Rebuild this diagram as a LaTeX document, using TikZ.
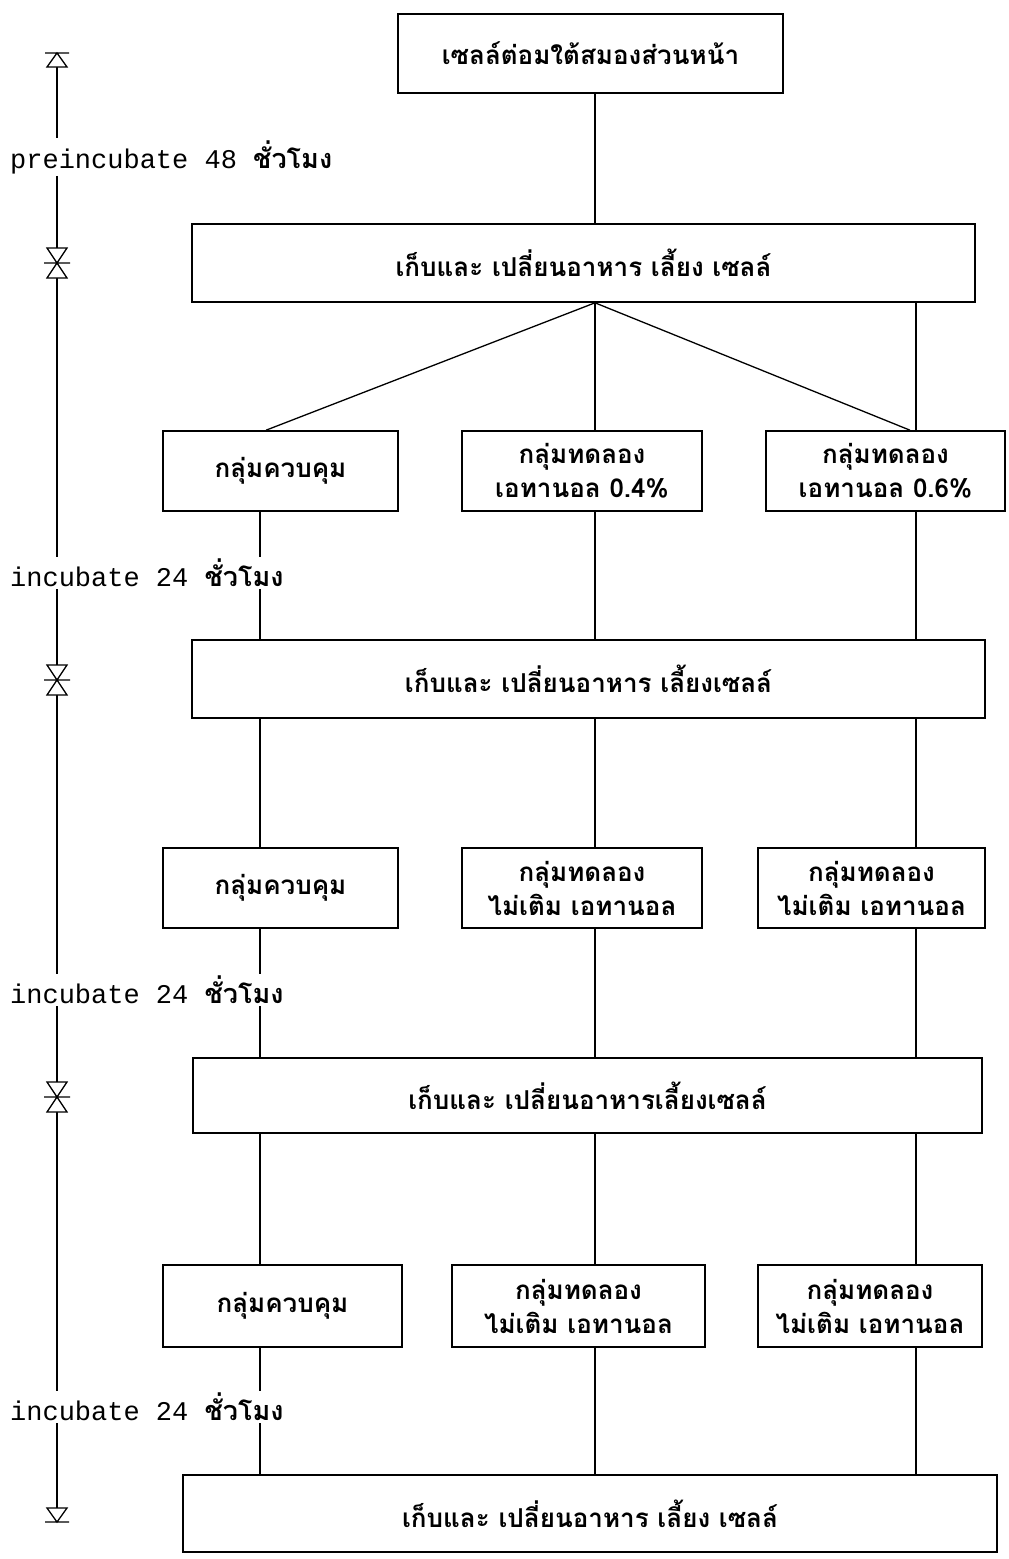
\documentclass[tikz,border=0pt]{standalone}
\usepackage{fontspec}
\newfontfamily\thaifont[Script=Thai]{Loma}
\setmonofont{Liberation Mono}

\tikzset{
  stepbox/.style={draw, line width=1.6pt, inner sep=0pt, align=center,
    font=\thaifont\bfseries\fontsize{26}{34}\selectfont},
  timelabel/.style={fill=white, inner sep=2pt, anchor=west,
    font=\ttfamily\fontsize{27}{30}\selectfont},
  link/.style={line width=1.3pt},
  marker/.style={line width=1.3pt, fill=white},
}
\newcommand{\thr}{\thaifont\bfseries}

\begin{document}
\begin{tikzpicture}[x=1pt, y=-1pt]
      \useasboundingbox[fill=white] (0,0) rectangle (1009,1559);
      % columns of the three groups
      \coordinate (left) at (260,0);
      \coordinate (mid) at (595,0);
      \coordinate (right) at (916,0);

      % boxes
      \node[stepbox, minimum width=385pt, minimum height=79pt] (cells) at (590.5,53.5) {เซลล์ต่อมใต้สมองส่วนหน้า};
      \node[stepbox, minimum width=783pt, minimum height=78pt] (change1) at (583.5,263) {เก็บและ เปลี่ยนอาหาร เลี้ยง เซลล์};
      \node[stepbox, minimum width=235pt, minimum height=80pt] (ctrl1) at (280.5,471) {กลุ่มควบคุม};
      \node[stepbox, minimum width=240pt, minimum height=80pt] (low1) at (582,471) {กลุ่มทดลอง\\เอทานอล 0.4\%};
      \node[stepbox, minimum width=239pt, minimum height=80pt] (high1) at (885.5,471) {กลุ่มทดลอง\\เอทานอล 0.6\%};
      \node[stepbox, minimum width=793pt, minimum height=78pt] (change2) at (588.5,679) {เก็บและ เปลี่ยนอาหาร เลี้ยงเซลล์};
      \node[stepbox, minimum width=235pt, minimum height=80pt] (ctrl2) at (280.5,888) {กลุ่มควบคุม};
      \node[stepbox, minimum width=240pt, minimum height=80pt] (low2) at (582,888) {กลุ่มทดลอง\\ไม่เติม เอทานอล};
      \node[stepbox, minimum width=227pt, minimum height=80pt] (high2) at (871.5,888) {กลุ่มทดลอง\\ไม่เติม เอทานอล};
      \node[stepbox, minimum width=789pt, minimum height=75pt] (change3) at (587.5,1095.5) {เก็บและ เปลี่ยนอาหารเลี้ยงเซลล์};
      \node[stepbox, minimum width=239pt, minimum height=82pt] (ctrl3) at (282.5,1306) {กลุ่มควบคุม};
      \node[stepbox, minimum width=253pt, minimum height=82pt] (low3) at (578.5,1306) {กลุ่มทดลอง\\ไม่เติม เอทานอล};
      \node[stepbox, minimum width=224pt, minimum height=82pt] (high3) at (870,1306) {กลุ่มทดลอง\\ไม่เติม เอทานอล};
      \node[stepbox, minimum width=814pt, minimum height=77pt] (change4) at (590,1513.5) {เก็บและ เปลี่ยนอาหาร เลี้ยง เซลล์};

      % connectors
      \draw[link] (cells.south -| mid) -- (change1.north -| mid);
      \draw[link] (change1.south -| mid) -- (ctrl1.north -| 266,0);
      \draw[link] (change1.south -| mid) -- (low1.north -| mid);
      \draw[link] (change1.south -| mid) -- (high1.north -| 910,0);
      \draw[link] (change1.south -| right) -- (high1.north -| right);
      \draw[link] (ctrl1.south -| left) -- (change2.north -| left);
      \draw[link] (low1.south -| mid) -- (change2.north -| mid);
      \draw[link] (high1.south -| right) -- (change2.north -| right);
      \draw[link] (change2.south -| left) -- (ctrl2.north -| left);
      \draw[link] (change2.south -| mid) -- (low2.north -| mid);
      \draw[link] (change2.south -| right) -- (high2.north -| right);
      \draw[link] (ctrl2.south -| left) -- (change3.north -| left);
      \draw[link] (low2.south -| mid) -- (change3.north -| mid);
      \draw[link] (high2.south -| right) -- (change3.north -| right);
      \draw[link] (change3.south -| left) -- (ctrl3.north -| left);
      \draw[link] (change3.south -| mid) -- (low3.north -| mid);
      \draw[link] (change3.south -| right) -- (high3.north -| right);
      \draw[link] (ctrl3.south -| left) -- (change4.north -| left);
      \draw[link] (low3.south -| mid) -- (change4.north -| mid);
      \draw[link] (high3.south -| right) -- (change4.north -| right);

      % time line on the left
      \coordinate (m0) at (57,53);
      \coordinate (m1) at (57,263);
      \coordinate (m2) at (57,680);
      \coordinate (m3) at (57,1097);
      \coordinate (m4) at (57,1522);
      \node[timelabel] (pre) at (8,157) {preincubate 48 {\thr ชั่วโมง}};
      \node[timelabel] (inc1) at (8,573) {incubate 24 {\thr ชั่วโมง}};
      \node[timelabel] (inc2) at (8,990) {incubate 24 {\thr ชั่วโมง}};
      \node[timelabel] (inc3) at (8,1407) {incubate 24 {\thr ชั่วโมง}};
      \draw[link, shorten <=14pt] (m0) -- (m0 |- pre.north);
      \draw[link, shorten >=15pt] (m0 |- pre.south) -- (m1);
      \draw[link, shorten <=15pt] (m1) -- (m1 |- inc1.north);
      \draw[link, shorten >=15pt] (m1 |- inc1.south) -- (m2);
      \draw[link, shorten <=15pt] (m2) -- (m2 |- inc2.north);
      \draw[link, shorten >=15pt] (m2 |- inc2.south) -- (m3);
      \draw[link, shorten <=15pt] (m3) -- (m3 |- inc3.north);
      \draw[link, shorten >=14pt] (m3 |- inc3.south) -- (m4);
      % markers
      \draw[marker, shift={(m0)}] (-12,0) -- (12,0) (0,0) -- (-10,14) -- (10,14) -- cycle;
      \foreach \m in {m1,m2,m3}
        \draw[marker, shift={(\m)}] (0,0) -- (-10,-15) -- (10,-15) -- cycle
          (0,0) -- (-10,15) -- (10,15) -- cycle (-13,0) -- (13,0);
      \draw[marker, shift={(m4)}] (-12,0) -- (12,0) (0,0) -- (-10,-14) -- (10,-14) -- cycle;
    \end{tikzpicture}
\end{document}
